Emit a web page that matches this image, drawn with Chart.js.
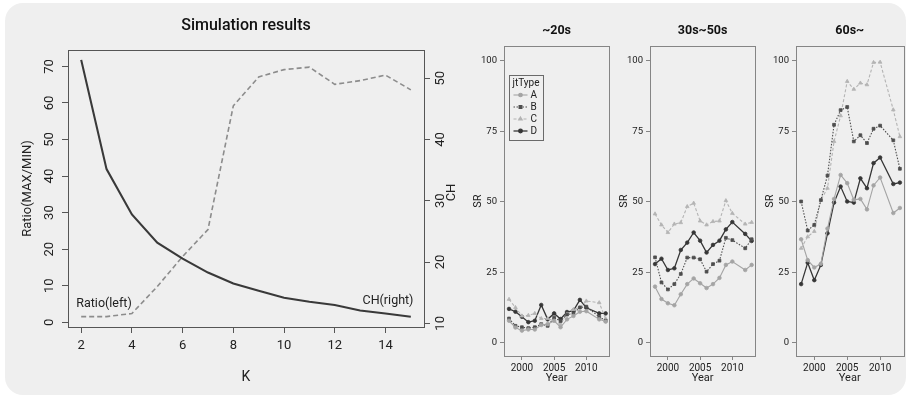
<!DOCTYPE html>
<html><head><meta charset="utf-8">
<script src="https://cdn.jsdelivr.net/npm/chart.js@4.4.1/dist/chart.umd.min.js"></script>
<style>
html,body{margin:0;padding:0;background:#fff;width:909px;height:396px;overflow:hidden;position:relative}
#bg{position:absolute;left:5px;top:3px;width:901px;height:392px;background:#efefef;border-radius:18px}
canvas{position:absolute;top:0}
</style></head><body>
<div id="bg"></div>
<canvas id="c0" width="460" height="396" style="left:0"></canvas>
<canvas id="c1" width="154" height="396" style="left:460px"></canvas>
<canvas id="c2" width="154" height="396" style="left:606px"></canvas>
<canvas id="c3" width="157" height="396" style="left:752px"></canvas>
<script>
// ---------- Left chart data ----------
const kValues   = [2,3,4,5,6,7,8,9,10,11,12,13,14,15];
const ratioLeft = [71.8,41.9,29.5,21.8,17.4,13.6,10.6,8.6,6.7,5.6,4.7,3.2,2.4,1.5];
const chRight   = [11.1,11.1,11.6,16.0,20.9,25.3,45.5,50.2,51.4,51.8,49.0,49.6,50.5,48.1];
const kTicks     = [2,4,6,8,10,12,14];
const ratioTicks = [0,10,20,30,40,50,60,70];
const chTicks    = [10,20,30,40,50];
const lineLabels = [
  {text:'Ratio(left)', k:2.9,  ratio:5.0},
  {text:'CH(right)',   k:14.1, ratio:5.8}
];

// ---------- Panel data ----------
const years = [1998,1999,2000,2001,2002,2003,2004,2005,2006,2007,2008,2009,2010,2012,2013];
const yearTicks = [2000,2005,2010];
const srTicks = [0,25,50,75,100];
const panelNames = ['~20s','30s~50s','60s~'];
const seriesNames = ['A','B','C','D'];

const sr20s_A = [7.8,5.4,4.3,4.7,4.7,6.3,6.6,7.8,5.5,8.3,9.5,11.0,11.2,8.3,7.5];
const sr20s_B = [8.6,6.0,5.5,5.2,5.5,6.6,6.0,8.9,7.7,10.0,10.4,12.5,12.8,9.2,7.8];
const sr20s_C = [15.4,12.5,9.5,9.7,10.4,8.6,8.6,7.8,6.6,10.2,11.8,12.5,14.8,14.2,8.5];
const sr20s_D = [12.0,11.0,9.2,7.3,7.8,13.4,8.3,10.4,8.4,10.9,11.4,15.2,12.4,10.4,10.4];

const sr30s_A = [19.9,15.5,14.0,13.3,17.2,20.8,22.8,21.1,19.4,20.8,23.0,27.6,28.8,25.8,27.6];
const sr30s_B = [30.3,21.4,18.9,20.8,24.4,30.2,30.2,29.6,25.2,27.9,29.1,37.2,36.4,33.5,36.7];
const sr30s_C = [45.7,41.8,39.1,42.1,42.6,48.3,49.5,43.2,41.8,43.0,43.2,50.4,45.9,42.1,42.7];
const sr30s_D = [27.9,29.8,25.8,26.4,32.9,35.5,39.1,36.2,32.0,34.7,36.2,40.2,42.8,38.6,36.1];

const sr60s_A = [36.7,29.3,26.7,28.0,40.5,51.0,59.5,56.6,50.7,51.0,47.3,55.8,58.6,46.0,47.8];
const sr60s_B = [50.1,39.8,41.8,50.6,59.3,77.3,82.5,83.6,71.4,73.6,70.8,75.9,77.0,71.8,61.7];
const sr60s_C = [33.5,37.6,39.5,50.6,54.8,71.4,80.5,92.7,89.9,92.1,91.5,99.4,99.5,82.6,73.1];
const sr60s_D = [20.8,28.4,22.2,27.6,38.8,49.7,55.4,50.1,49.7,58.3,54.8,63.7,65.7,56.3,56.8];

const panelSeries = [
  [sr20s_A, sr20s_B, sr20s_C, sr20s_D],
  [sr30s_A, sr30s_B, sr30s_C, sr30s_D],
  [sr60s_A, sr60s_B, sr60s_C, sr60s_D]
];

// ---------- styling ----------
const FONT = 'Roboto, "Liberation Sans", Arial, sans-serif';
const TXT = '#222';
Chart.defaults.font.family = FONT;
Chart.defaults.color = TXT;
Chart.defaults.animation = false;

const seriesStyle = {
  A: {color:'#a4a4a4', dash:[],      point:'circle',   r:1.8, w:1.1},
  B: {color:'#4e4e4e', dash:[1.5,1.5], point:'rect',   r:2.0, w:1.1},
  C: {color:'#b4b4b4', dash:[3,2],   point:'triangle', r:2.1, w:1.1},
  D: {color:'#363636', dash:[],      point:'circle',   r:1.8, w:1.3}
};

const toXY = (xs, ys) => xs.map((x, i) => ({x, y: ys[i]}));
const setTicks = arr => (s => { s.ticks = arr.map(v => ({value: v})); });

// box around plot area
const boxPlugin = {
  id: 'plotBox',
  afterDatasetsDraw(chart, args, o) {
    const {ctx, chartArea: a} = chart;
    ctx.save();
    ctx.strokeStyle = o.color || '#555';
    ctx.lineWidth = 1;
    ctx.strokeRect(Math.round(a.left) + 0.5, Math.round(a.top) + 0.5,
                   Math.round(a.right - a.left), Math.round(a.bottom - a.top));
    ctx.restore();
  }
};

// rotated tick labels (R style) + texts for left chart
const leftExtras = {
  id: 'leftExtras',
  afterDraw(chart) {
    const ctx = chart.ctx;
    const sy = chart.scales.y, sy2 = chart.scales.y2, sx = chart.scales.x;
    ctx.save();
    ctx.fillStyle = TXT;
    ctx.font = '13px ' + FONT;
    ctx.textAlign = 'center';
    ctx.textBaseline = 'middle';
    const drawRot = (txt, x, y) => {
      ctx.save(); ctx.translate(x, y); ctx.rotate(-Math.PI / 2);
      ctx.fillText(txt, 0, 0); ctx.restore();
    };
    sy.ticks.forEach(t => drawRot(String(t.value), sy.right - 18, sy.getPixelForValue(t.value)));
    sy2.ticks.forEach(t => drawRot(String(t.value), sy2.left + 17, sy2.getPixelForValue(t.value)));
    ctx.font = '13px ' + FONT;
    drawRot('CH', sy2.right - 8, (chart.chartArea.top + chart.chartArea.bottom) / 2 + 4);
    ctx.font = '12.5px ' + FONT;
    lineLabels.forEach(l => ctx.fillText(l.text, sx.getPixelForValue(l.k), sy.getPixelForValue(l.ratio)));
    ctx.restore();
  }
};

new Chart(document.getElementById('c0'), {
  type: 'line',
  data: {
    datasets: [
      {label:'Ratio', data: toXY(kValues, ratioLeft), yAxisID:'y', borderColor:'#393939',
       borderWidth:2.1, pointRadius:0, tension:0},
      {label:'CH', data: toXY(kValues, chRight), yAxisID:'y2', borderColor:'#8c8c8c',
       borderWidth:1.6, borderDash:[5,3], pointRadius:0, tension:0}
    ]
  },
  options: {
    responsive:false, devicePixelRatio:1,
    layout:{padding:0},
    plugins:{
      legend:{display:false}, tooltip:{enabled:false},
      title:{display:true, text:'Simulation results', fullSize:false, color:'#111',
             font:{size:16, weight:'500', family:FONT}, padding:{top:16, bottom:14.8}},
      plotBox:{color:'#555'}
    },
    scales:{
      x:{type:'linear', position:'bottom', min:1.48, max:15.52,
         afterBuildTicks:setTicks(kTicks), afterFit:s=>{s.height=69;},
         border:{display:false},
         grid:{drawOnChartArea:false, drawTicks:true, tickLength:6, color:'#555'},
         ticks:{font:{size:13}, padding:5, color:TXT, maxRotation:0},
         title:{display:true, text:'K', font:{size:14}, color:TXT, padding:{top:0,bottom:10}}},
      y:{type:'linear', position:'left', min:-1.3, max:74.5,
         afterBuildTicks:setTicks(ratioTicks), afterFit:s=>{s.width=68;},
         border:{display:false},
         grid:{drawOnChartArea:false, drawTicks:true, tickLength:6, color:'#555'},
         ticks:{display:false},
         title:{display:true, text:'Ratio(MAX/MIN)', font:{size:13}, color:TXT, padding:{top:20.2,bottom:0}}},
      y2:{type:'linear', position:'right', min:9.4, max:54.6,
         afterBuildTicks:setTicks(chTicks), afterFit:s=>{s.width=36;},
         border:{display:false},
         grid:{drawOnChartArea:false, drawTicks:true, tickLength:6, color:'#555'},
         ticks:{display:false}}
    }
  },
  plugins:[boxPlugin, leftExtras]
});

// legend for first panel
const legendPlugin = {
  id: 'panelLegend',
  afterDraw(chart, args, o) {
    if (!o.show) return;
    const {ctx, chartArea: a} = chart;
    const x0 = Math.round(a.left) + 5.5, y0 = Math.round(a.top) + 29.5;
    ctx.save();
    ctx.strokeStyle = '#6a6a6a'; ctx.lineWidth = 1;
    ctx.strokeRect(x0, y0, 34, 65);
    ctx.fillStyle = TXT;
    ctx.font = '10px ' + FONT;
    ctx.textBaseline = 'middle';
    ctx.textAlign = 'left';
    ctx.fillText('jtType', x0 + 3, y0 + 8);
    chart.data.datasets.forEach((ds, i) => {
      const yy = y0 + 19.5 + i * 12;
      const st = seriesStyle[ds.label];
      ctx.save();
      ctx.strokeStyle = st.color; ctx.lineWidth = st.w;
      ctx.setLineDash(st.dash);
      ctx.beginPath(); ctx.moveTo(x0 + 4, yy); ctx.lineTo(x0 + 18, yy); ctx.stroke();
      ctx.setLineDash([]);
      ctx.fillStyle = st.color;
      Chart.helpers.drawPoint(ctx, {pointStyle: st.point, radius: st.r, rotation: 0, borderWidth: 1}, x0 + 11, yy);
      ctx.restore();
      ctx.fillStyle = TXT;
      ctx.fillText(ds.label, x0 + 21, yy + 0.5);
    });
    ctx.restore();
  }
};

const padRight = [4, 3.5, 5.5];
panelNames.forEach((name, p) => {
  new Chart(document.getElementById('c' + (p + 1)), {
    type: 'line',
    data: {
      datasets: seriesNames.map((s, i) => {
        const st = seriesStyle[s];
        return {label:s, data: toXY(years, panelSeries[p][i]),
          borderColor: st.color, backgroundColor: st.color, borderWidth: st.w, borderDash: st.dash,
          pointStyle: st.point, pointRadius: st.r, pointBorderWidth: 0.8,
          pointBackgroundColor: st.color, pointBorderColor: st.color, tension: 0};
      })
    },
    options: {
      responsive:false, devicePixelRatio:1,
      layout:{padding:{left:0, right:padRight[p], top:0, bottom:0}},
      plugins:{
        legend:{display:false}, tooltip:{enabled:false},
        title:{display:true, text:name, fullSize:false, color:'#111',
               font:{size:12.5, weight:'bold', family:FONT}, padding:{top:23, bottom:8.4}},
        plotBox:{color:'#858585'},
        panelLegend:{show: p === 0}
      },
      scales:{
        x:{type:'linear', position:'bottom', min:1997.22, max:2013.55,
           afterBuildTicks:setTicks(yearTicks), afterFit:s=>{s.height=40;},
           border:{display:false},
           grid:{drawOnChartArea:false, drawTicks:true, tickLength:4, color:'#858585'},
           ticks:{font:{size:10}, padding:2, color:TXT, maxRotation:0, autoSkip:false,
                  callback:v=>String(v)},
           title:{display:true, text:'Year', font:{size:11}, color:TXT, padding:{top:0,bottom:11}}},
        y:{type:'linear', position:'left', min:-4.7, max:105.1,
           afterBuildTicks:setTicks(srTicks), afterFit:s=>{s.width=44;},
           border:{display:false},
           grid:{drawOnChartArea:false, drawTicks:true, tickLength:4, color:'#858585'},
           ticks:{font:{size:9.5}, padding:3, color:TXT},
           title:{display:true, text:'SR', font:{size:11}, color:TXT, padding:{top:12, bottom:0}}}
      }
    },
    plugins:[boxPlugin, legendPlugin]
  });
});
</script>
</body></html>
